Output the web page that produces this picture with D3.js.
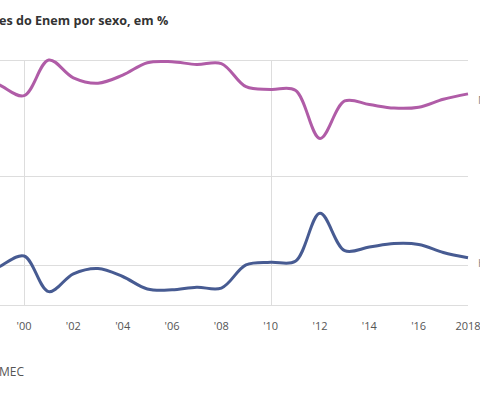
<!DOCTYPE html>
<html>
  <head>
    <script src="https://d3js.org/d3.v7.min.js"></script>
    <style>
      body { margin: 0; background: #fff; }
      text { font-family: "Open Sans", sans-serif; }
    </style>
  </head>
  <body>
    <svg id="chart" width="480" height="393"></svg>

    <script>
      // data (share of candidates, %)
      const years = [1998, 1999, 2000, 2001, 2002, 2003, 2004, 2005, 2006, 2007, 2008,
                     2009, 2010, 2011, 2012, 2013, 2014, 2015, 2016, 2017, 2018];
      const women = [61.6, 60.2, 59.0, 63.0, 61.0, 60.4, 61.3, 62.7, 62.8, 62.5, 62.6,
                     60.0, 59.7, 59.6, 54.2, 58.4, 58.0, 57.6, 57.7, 58.6, 59.2];
      const men   = [38.4, 39.8, 41.0, 37.0, 39.0, 39.6, 38.7, 37.3, 37.2, 37.5, 37.4,
                     40.0, 40.3, 40.4, 45.8, 41.6, 42.0, 42.4, 42.3, 41.4, 40.8];
      const tickYears = [2000, 2002, 2004, 2006, 2008, 2010, 2012, 2014, 2016, 2018];
      const tickLabels = ["'00", "'02", "'04", "'06", "'08", "'10", "'12", "'14", "'16", "2018"];
      const gridValues = [40, 50];
      const vGridYears = [2000, 2010];

      var svg = d3.select("#chart");

      var x = d3.scaleLinear()
        .domain([1998, 2018])
        .range([-25.3, 468]);

      var y = d3.scaleLinear()
        .domain([35.5, 63])
        .range([305, 60]);

      // title (cropped on the left in the original)
      svg.append("text")
        .attr("x", -1)
        .attr("y", 25)
        .style("font-size", "12.6px")
        .style("font-weight", "bold")
        .style("fill", "#333")
        .text("es do Enem por sexo, em %");

      // grid
      var grid = svg.append("g");
      grid.selectAll(".h")
        .data(gridValues.concat(y.domain()))
        .enter()
        .append("line")
        .attr("x1", 0)
        .attr("x2", x(2018))
        .attr("y1", d => Math.round(y(d)) + 0.5)
        .attr("y2", d => Math.round(y(d)) + 0.5)
        .attr("stroke", "#ddd");

      grid.selectAll(".v")
        .data(vGridYears)
        .enter()
        .append("line")
        .attr("x1", d => Math.round(x(d)) + 0.5)
        .attr("x2", d => Math.round(x(d)) + 0.5)
        .attr("y1", y(63))
        .attr("y2", y(35.5))
        .attr("stroke", "#ddd");

      // x axis labels
      svg.selectAll(".tick")
        .data(tickYears)
        .enter()
        .append("text")
        .attr("x", d => x(d))
        .attr("y", 330)
        .attr("text-anchor", "middle")
        .style("font-size", "11px")
        .style("fill", "#555")
        .text((d, i) => tickLabels[i]);

      // lines
      var line = d3.line()
        .x((d, i) => x(years[i]))
        .y(d => y(d))
        .curve(d3.curveCatmullRom);

      svg.append("path")
        .datum(women)
        .attr("d", line)
        .attr("fill", "none")
        .attr("stroke", "#b05ca7")
        .attr("stroke-width", 3);

      svg.append("path")
        .datum(men)
        .attr("d", line)
        .attr("fill", "none")
        .attr("stroke", "#475b92")
        .attr("stroke-width", 3);

      // end labels, mostly outside the frame
      svg.append("text")
        .attr("x", 478)
        .attr("y", 104)
        .style("font-size", "11px")
        .style("fill", "#888")
        .text("Mulheres");

      svg.append("text")
        .attr("x", 478)
        .attr("y", 267)
        .style("font-size", "11px")
        .style("fill", "#888")
        .text("Homens");

      // source
      svg.append("text")
        .attr("x", -1)
        .attr("y", 376)
        .style("font-size", "12px")
        .style("fill", "#555")
        .text("MEC");
    </script>
  </body>
</html>
